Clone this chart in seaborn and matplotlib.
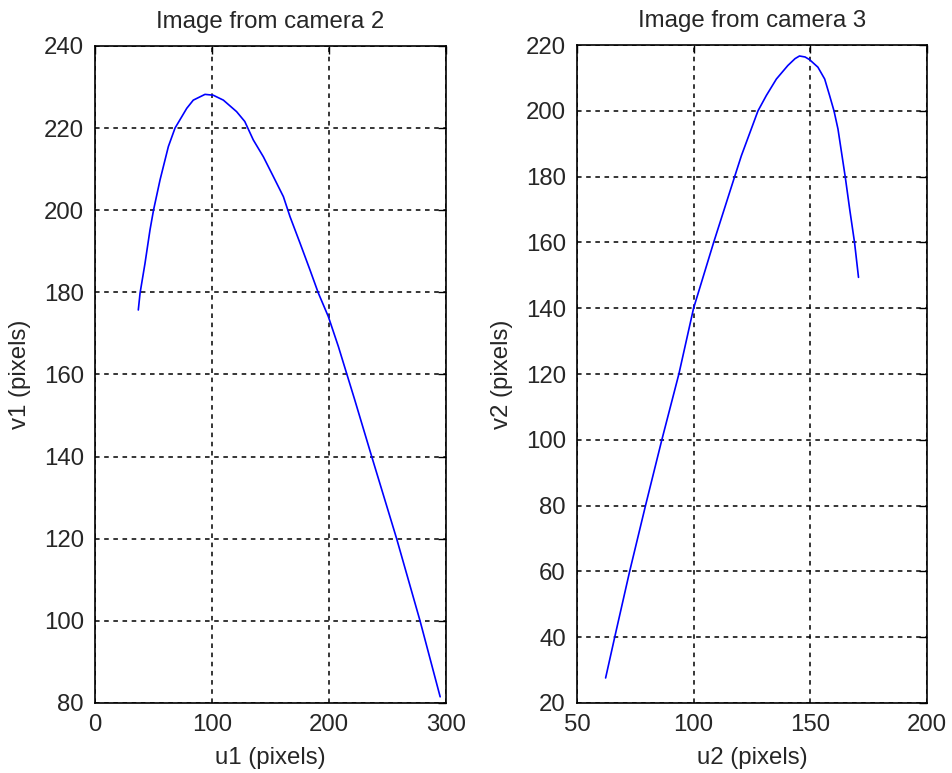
import seaborn as sns
from matplotlib import pyplot as plt

# camera 2 trajectory (image coordinates)
u1 = [37, 38.5, 42.7, 47, 50, 55.6, 62.7, 68.4, 78.4, 84, 94, 101, 109.7, 121, 128,
      135.3, 143.9, 152.4, 161, 166.7, 175.2, 183.8, 190.9, 199.4, 208, 215, 222,
      236.5, 257.8, 277.8, 295]
v1 = [175.7, 179.8, 187, 195.2, 200, 207.4, 215.5, 220, 224.8, 226.8, 228.2, 228,
      226.8, 224, 221.6, 217.1, 213, 208.2, 203.3, 198.4, 192, 185.4, 179.8, 174.1,
      166.8, 160.3, 153.8, 140, 120, 100, 81.5]

# camera 3 trajectory
u2 = [62.3, 66.2, 72.6, 79.4, 86.4, 93.7, 100, 108.6, 117.6, 120.5, 127.6, 131.2,
      135.5, 140.4, 143.5, 145.4, 147.8, 149.7, 153.3, 156.2, 158.3, 160.2, 161.9,
      165, 166.9, 169, 170.7]
v2 = [27.6, 40, 60, 80, 100, 120, 140, 160, 180, 186.4, 200, 204.7, 209.7, 213.8,
      215.9, 216.7, 216.4, 215.6, 213.3, 209.7, 204.7, 200, 194.5, 180, 170.2, 160,
      149.4]

sns.set_theme(style="white")
plt.rcParams['font.family'] = ['Liberation Sans', 'DejaVu Sans']
fs = 17.3

fig = plt.figure(figsize=(9.52, 7.73), dpi=100)
ax1 = fig.add_axes([0.0998, 0.0906, 0.3687, 0.85])
ax2 = fig.add_axes([0.606, 0.0906, 0.3676, 0.851])

panels = [
    (ax1, u1, v1, "Image from camera 2", "u1 (pixels)", "v1 (pixels)",
     (0, 300), [0, 100, 200, 300], (80, 240), list(range(80, 241, 20))),
    (ax2, u2, v2, "Image from camera 3", "u2 (pixels)", "v2 (pixels)",
     (50, 200), [50, 100, 150, 200], (20, 220), list(range(20, 221, 20))),
]

for ax, x, y, title, xl, yl, xlim, xt, ylim, yt in panels:
    sns.lineplot(x=x, y=y, ax=ax, sort=False, estimator=None,
                 color="#0000ff", linewidth=1.2)
    ax.set_xlim(*xlim)
    ax.set_ylim(*ylim)
    ax.set_xticks(xt)
    ax.set_yticks(yt)
    ax.grid(True, color="black", linestyle=(0, (3, 3)), linewidth=1.1)
    ax.tick_params(direction="in", length=6, width=1, colors="black",
                   labelcolor="#262626", labelsize=fs, top=True, right=True, pad=8)
    for s in ax.spines.values():
        s.set_color("black")
        s.set_linewidth(1.2)
    ax.set_title(title, fontsize=fs, pad=13)
    ax.set_xlabel(xl, fontsize=fs, labelpad=8)
    ax.set_ylabel(yl, fontsize=fs, labelpad=9)

fig.savefig("out.png", dpi=100, facecolor="white")
